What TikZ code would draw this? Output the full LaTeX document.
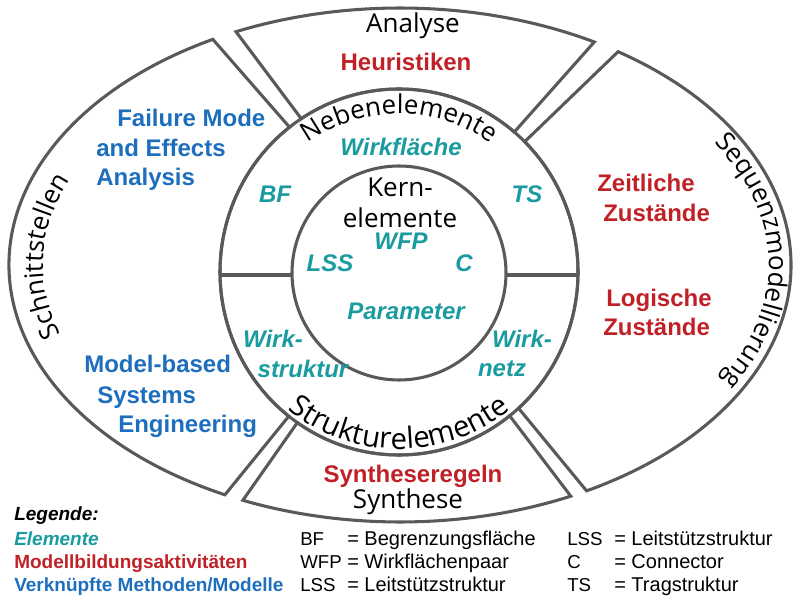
\documentclass[tikz,border=0pt]{standalone}
\usepackage{fontspec}
\setmainfont{Liberation Sans}
\newfontfamily\labelfont{Open Sans}
\usetikzlibrary{decorations.text}

\definecolor{rimgray}{RGB}{89,89,89}
\definecolor{elemteal}{RGB}{26,155,160}
\definecolor{actred}{RGB}{192,33,39}
\definecolor{methblue}{RGB}{30,110,190}

\tikzset{
  sector/.style={draw=rimgray, line width=2.3pt, line join=miter},
  element/.style={text=elemteal, font=\bfseries\itshape\fontsize{18}{20}\selectfont, inner sep=0pt},
  activity/.style={text=actred, font=\bfseries\fontsize{18}{20}\selectfont, inner sep=0pt},
  method/.style={text=methblue, font=\bfseries\fontsize{18}{20}\selectfont, inner sep=0pt, anchor=base west},
  caption/.style={font=\labelfont\fontsize{19.5}{21}\selectfont, inner sep=0pt},
  legend/.style={font=\fontsize{15}{17}\selectfont, inner sep=0pt, anchor=base west},
  legabb/.style={legend, font=\fontsize{14}{16}\selectfont},
  bent/.style={decorate, decoration={text along path, text align=center, text={|\labelfont\fontsize{19.5}{21}\selectfont|#1}}},
  bentbig/.style={decorate, decoration={text along path, text align=center, text={|\labelfont\fontsize{22}{24}\selectfont|#1}}},
}

\begin{document}
\begin{tikzpicture}[x=0.75pt,y=0.75pt,yscale=-1,xscale=1]
\useasboundingbox (0,0) rectangle (796,598);

%four sectors between middle circle and outer ellipse
\foreach \ia/\oa/\ob/\ib in {236.9/245.2/299.8/310.1, 314.6/303.9/421.5/408.1, 51.8/64.1/113.7/124.6, 128.0/116.6/241.4/232.3}
  \draw[sector] ({399+179*cos(\ia)},{272+183*sin(\ia)}) -- ({400+391*cos(\oa)},{265+257*sin(\oa)}) arc[start angle=\oa, end angle=\ob, x radius=391, y radius=257] -- ({399+179*cos(\ib)},{272+183*sin(\ib)}) arc[start angle=\ib, end angle=\ia, x radius=179, y radius=183] -- cycle;

%middle and inner circle
\draw[sector] (399,272) ellipse [x radius=179, y radius=183];
\draw[sector] (399,273) circle [radius=107];
\draw[sector] (220,275) -- (292,275);
\draw[sector] (506,275) -- (578,275);

%curved captions
\path[bent=Nebenelemente] ({399+158*cos(215)},{272+158*sin(215)}) arc[start angle=215, end angle=325, radius=158];
\path[bentbig=Strukturelemente] ({399+177*cos(150)},{272+177*sin(150)}) arc[start angle=150, end angle=30, radius=177];
\path[bent=Schnittstellen] ({400+357*cos(150)},{265+223*sin(150)}) arc[start angle=150, end angle=214, x radius=357, y radius=223];
\path[bent=Sequenzmodellierung] ({400+369*cos(-34)},{265+233*sin(-34)}) arc[start angle=-34, end angle=32, x radius=369, y radius=233];

% Text Node
\node[caption, anchor=base] (analyse) at (413,33) {Analyse};
\node[caption, anchor=base] (synthese) at (408,508) {Synthese};
\node[caption, anchor=base] (kern) at (400,197) {Kern-};
\node[caption, anchor=base] (kernel) at (400,228) {elemente};

% Elements
\node[element, anchor=base] (wirkflaeche) at (401,156) {Wirkfläche};
\node[element, anchor=base] (wfp) at (401,250) {WFP};
\node[element, anchor=base] (bf) at (275,203) {BF};
\node[element, anchor=base] (ts) at (527,203) {TS};
\node[element, anchor=base] (lss) at (330,272) {LSS};
\node[element, anchor=base] (con) at (464,272) {C};
\node[element, anchor=base] (parameter) at (406,320) {Parameter};
\node[element, anchor=base] (wirkstr) at (273,348) {Wirk-};
\node[element, anchor=base] (wirkstrb) at (303,378) {struktur};
\node[element, anchor=base] (wirknetz) at (522,348) {Wirk-};
\node[element, anchor=base] (wirknetzb) at (502,377) {netz};

% Activities
\node[activity, anchor=base] (heuristik) at (406,71) {Heuristiken};
\node[activity, anchor=base west] (zeitl) at (597,192) {Zeitliche};
\node[activity, anchor=base west] (zeitlb) at (603,222) {Zustände};
\node[activity, anchor=base west] (logi) at (606,307) {Logische};
\node[activity, anchor=base west] (logib) at (603,336) {Zustände};
\node[activity, anchor=base] (synregel) at (413,482) {Syntheseregeln};

% Methods
\node[method] (fmea) at (117,127) {Failure Mode};
\node[method] (fmeab) at (96,157) {and Effects};
\node[method] (fmeac) at (96,186) {Analysis};
\node[method] (mbse) at (84,373) {Model-based};
\node[method] (mbseb) at (97,403) {Systems};
\node[method] (mbsec) at (118,432) {Engineering};

% Legend
\node[legend, font=\bfseries\itshape\fontsize{14.25}{16}\selectfont] (legtitle) at (14,520) {Legende:};
\node[legend, text=elemteal, font=\bfseries\itshape\fontsize{14.25}{16}\selectfont] (legelem) at (14,545) {Elemente};
\node[legend, text=actred, font=\bfseries\fontsize{14.25}{16}\selectfont] (legact) at (14,568) {Modellbildungsaktivitäten};
\node[legend, text=methblue, font=\bfseries\fontsize{14.25}{16}\selectfont] (legmeth) at (14,591) {Verknüpfte Methoden/Modelle};
\foreach \n/\ab/\df/\xx/\yy in {1/BF/Begrenzungsfläche/300/545, 2/WFP/Wirkflächenpaar/300/568, 3/LSS/Leitstützstruktur/300/591, 4/LSS/Leitstützstruktur/567/545, 5/C/Connector/567/568, 6/TS/Tragstruktur/567/591}
{
  \node[legabb] (abb\n) at (\xx,\yy) {\ab};
  \node[legend] (def\n) at (\xx+47,\yy) {= \df};
}

\end{tikzpicture}
\end{document}
